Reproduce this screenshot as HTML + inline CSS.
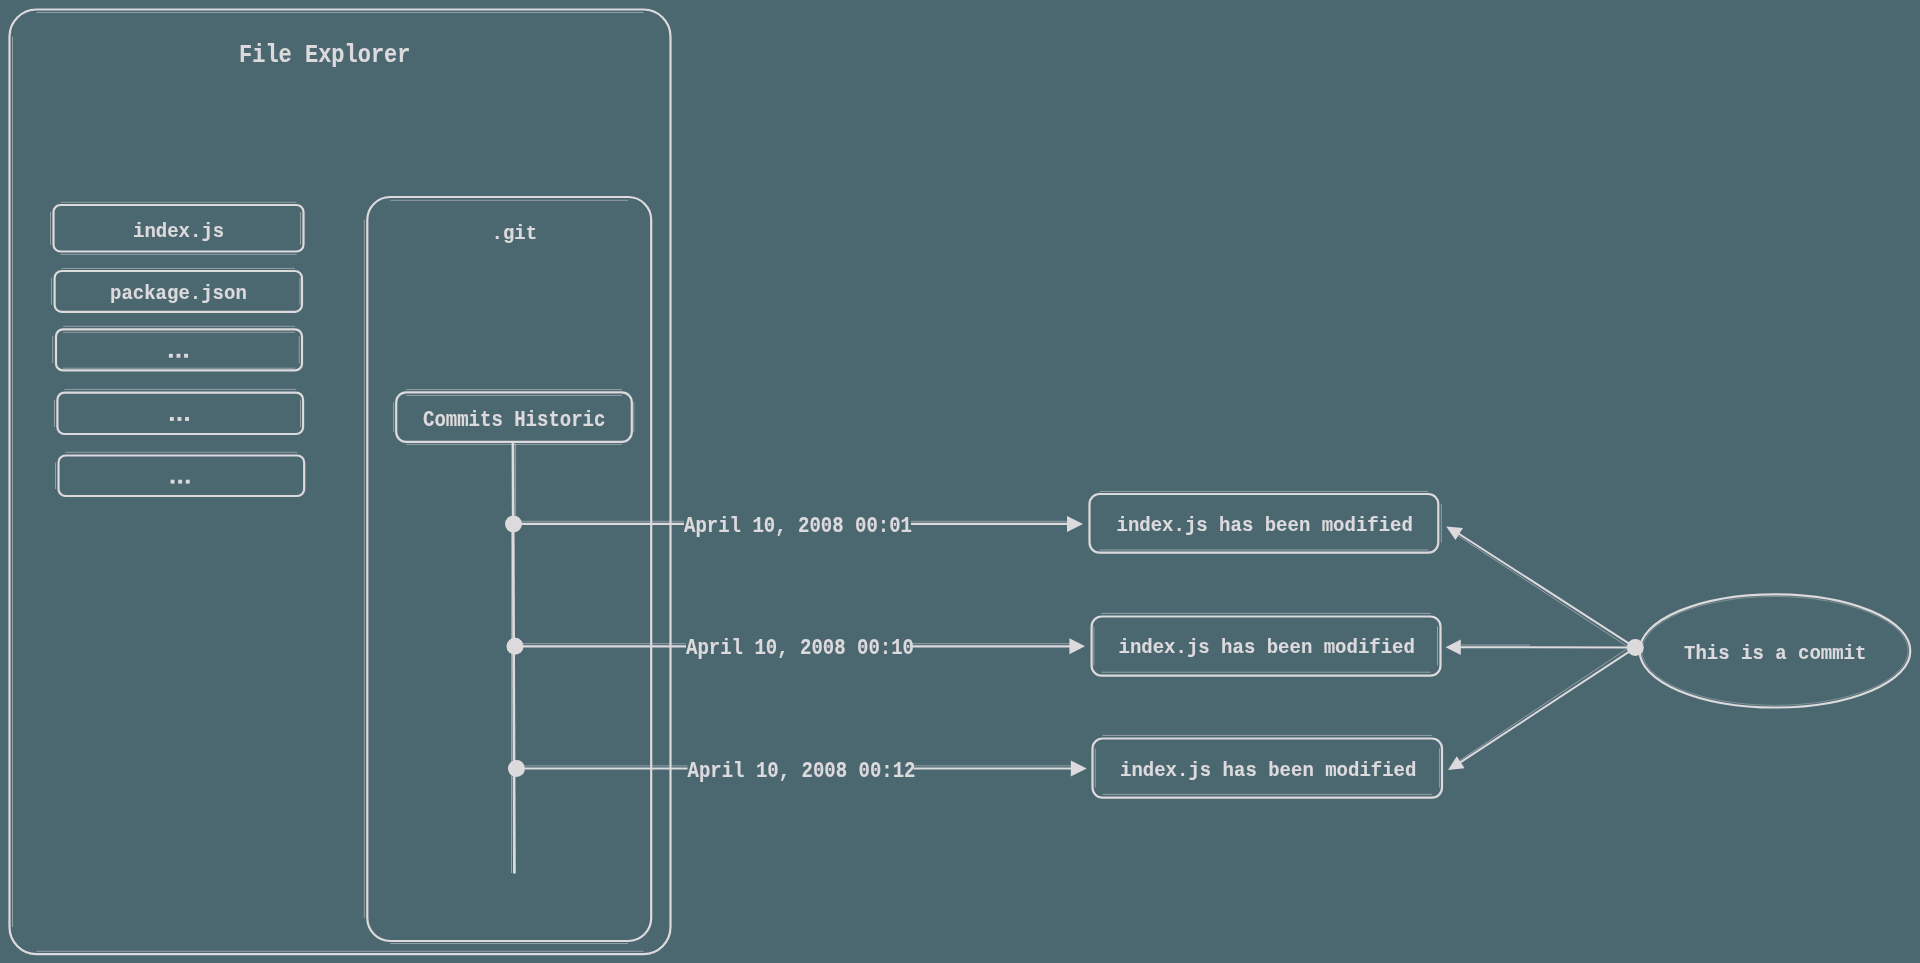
<!DOCTYPE html>
<html><head><meta charset="utf-8"><style>
html,body{margin:0;padding:0;background:#4b6770;width:1920px;height:963px;overflow:hidden}
svg{display:block;will-change:transform}
.m{fill:none;stroke:#dddadd;stroke-width:2.2;stroke-linecap:round}
.s{fill:none;stroke:#dddadd;stroke-width:1;opacity:.5}
.t{font-family:"Liberation Mono",monospace;font-weight:bold;fill:#dddadd;stroke:#dddadd;stroke-width:.12}
</style></head><body>
<svg width="1920" height="963" viewBox="0 0 1920 963">
<path d="M36.50 9.50H643.50A27 27 0 0 1 670.50 36.50V927.10A27 27 0 0 1 643.50 954.10H36.50A27 27 0 0 1 9.50 927.10V36.50A27 27 0 0 1 36.50 9.50Z" class="m"/>
<path d="M36.5 12.50H643.5" class="s"/>
<path d="M12.50 36.5V927.1" class="s"/>
<path d="M36.5 951.30H643.5" class="s"/>
<path d="M390.30 197.00H628.20A23 23 0 0 1 651.20 220.00V918.00A23 23 0 0 1 628.20 941.00H390.30A23 23 0 0 1 367.30 918.00V220.00A23 23 0 0 1 390.30 197.00Z" class="m"/>
<path d="M390.3 200.30H628.2" class="s"/>
<path d="M364.30 220.0V918.0" class="s"/>
<path d="M390.3 943.50H628.2" class="s"/>
<path d="M406.20 392.40H621.80A10 10 0 0 1 631.80 402.40V431.90A10 10 0 0 1 621.80 441.90H406.20A10 10 0 0 1 396.20 431.90V402.40A10 10 0 0 1 406.20 392.40Z" class="m"/>
<path d="M406.2 389.60H621.8" class="s"/>
<path d="M406.2 395.40H621.8" class="s"/>
<path d="M393.60 402.4V431.9" class="s"/>
<path d="M406.2 444.40H621.8" class="s"/>
<path d="M633.80 402.4V431.9" class="s"/>
<path d="M60.50 205.00H296.50A7 7 0 0 1 303.50 212.00V244.50A7 7 0 0 1 296.50 251.50H60.50A7 7 0 0 1 53.50 244.50V212.00A7 7 0 0 1 60.50 205.00Z" class="m"/>
<path d="M60.5 202.30H296.5" class="s"/>
<path d="M60.5 254.40H296.5" class="s"/>
<path d="M50.50 212.0V244.5" class="s"/>
<path d="M300.50 212.0V244.5" class="s"/>
<path d="M61.60 271.00H295.00A7 7 0 0 1 302.00 278.00V304.80A7 7 0 0 1 295.00 311.80H61.60A7 7 0 0 1 54.60 304.80V278.00A7 7 0 0 1 61.60 271.00Z" class="m"/>
<path d="M61.6 268.40H295.0" class="s"/>
<path d="M51.40 278.0V304.8" class="s"/>
<path d="M300.00 278.0V304.8" class="s"/>
<path d="M63.00 329.30H295.00A7 7 0 0 1 302.00 336.30V363.40A7 7 0 0 1 295.00 370.40H63.00A7 7 0 0 1 56.00 363.40V336.30A7 7 0 0 1 63.00 329.30Z" class="m"/>
<path d="M63.0 326.30H295.0" class="s"/>
<path d="M63.0 332.30H295.0" class="s"/>
<path d="M63.0 368.20H295.0" class="s"/>
<path d="M52.70 336.3V363.4" class="s"/>
<path d="M299.20 336.3V363.4" class="s"/>
<path d="M64.40 392.60H296.10A7 7 0 0 1 303.10 399.60V427.00A7 7 0 0 1 296.10 434.00H64.40A7 7 0 0 1 57.40 427.00V399.60A7 7 0 0 1 64.40 392.60Z" class="m"/>
<path d="M64.4 389.40H296.1" class="s"/>
<path d="M54.40 399.6V427.0" class="s"/>
<path d="M300.50 399.6V427.0" class="s"/>
<path d="M65.50 455.50H297.20A7 7 0 0 1 304.20 462.50V489.00A7 7 0 0 1 297.20 496.00H65.50A7 7 0 0 1 58.50 489.00V462.50A7 7 0 0 1 65.50 455.50Z" class="m"/>
<path d="M65.5 452.30H297.2" class="s"/>
<path d="M55.50 462.5V489.0" class="s"/>
<path d="M1099.50 494.00H1428.30A10 10 0 0 1 1438.30 504.00V542.60A10 10 0 0 1 1428.30 552.60H1099.50A10 10 0 0 1 1089.50 542.60V504.00A10 10 0 0 1 1099.50 494.00Z" class="m"/>
<path d="M1099.5 491.40H1428.3" class="s"/>
<path d="M1099.5 550.00H1428.3" class="s"/>
<path d="M1441.30 504.0V542.6" class="s"/>
<path d="M1101.60 616.50H1430.50A10 10 0 0 1 1440.50 626.50V665.60A10 10 0 0 1 1430.50 675.60H1101.60A10 10 0 0 1 1091.60 665.60V626.50A10 10 0 0 1 1101.60 616.50Z" class="m"/>
<path d="M1101.6 613.40H1430.5" class="s"/>
<path d="M1101.6 672.20H1430.5" class="s"/>
<path d="M1093.90 626.5V665.6" class="s"/>
<path d="M1437.50 626.5V665.6" class="s"/>
<path d="M1102.50 738.50H1432.00A10 10 0 0 1 1442.00 748.50V787.60A10 10 0 0 1 1432.00 797.60H1102.50A10 10 0 0 1 1092.50 787.60V748.50A10 10 0 0 1 1102.50 738.50Z" class="m"/>
<path d="M1102.5 735.40H1432.0" class="s"/>
<path d="M1102.5 794.40H1432.0" class="s"/>
<path d="M1095.30 748.5V787.6" class="s"/>
<path d="M1439.60 748.5V787.6" class="s"/>
<path d="M512.9 442L514.4 873.5" class="m" style="stroke-width:2.7;stroke-linecap:butt"/>
<path d="M515.6 444V515" class="s"/>
<path d="M511.5 532V873" class="s"/>
<circle cx="513.5" cy="523.9" r="8.5" fill="#dddadd"/>
<path d="M513.5 523.9H684M911 523.9H1069" class="m" style="stroke-width:2.2;stroke-linecap:butt"/>
<path d="M521.5 521.3H684M911 521.3H1067" class="s"/>
<path d="M1067 515.9L1083 523.9L1067 531.9Z" fill="#dddadd"/>
<circle cx="515" cy="646.3" r="8.5" fill="#dddadd"/>
<path d="M515 646.3H686M912 646.3H1071.4" class="m" style="stroke-width:2.2;stroke-linecap:butt"/>
<path d="M523 643.6999999999999H686M912 643.6999999999999H1069.4" class="s"/>
<path d="M1069.4 638.3L1085 646.3L1069.4 654.3Z" fill="#dddadd"/>
<circle cx="516.5" cy="768.5" r="8.5" fill="#dddadd"/>
<path d="M516.5 768.5H687.5M913.5 768.5H1072.8" class="m" style="stroke-width:2.2;stroke-linecap:butt"/>
<path d="M524.5 765.9H687.5M913.5 765.9H1070.8" class="s"/>
<path d="M1070.8 760.5L1086.7 768.5L1070.8 776.5Z" fill="#dddadd"/>
<ellipse cx="1775" cy="650.9" rx="135.3" ry="56.6" class="m" style="stroke-width:2.2"/>
<ellipse cx="1775" cy="650.9" rx="133" ry="54.4" class="s" style="opacity:.35"/>
<circle cx="1635.3" cy="647.6" r="8.5" fill="#dddadd"/>
<path d="M1635.3 647.6L1459.2 534.0" class="m" style="stroke-width:2"/>
<path d="M1632 649.5L1458.2 535.8" class="s"/>
<path d="M1446.2 526.5L1463 528L1455.5 540Z" fill="#dddadd"/>
<path d="M1635.3 647.6L1460.8 647.2" class="m" style="stroke-width:2"/>
<path d="M1530 645L1460.8 645" class="s"/>
<path d="M1445.6 647.3L1460.8 639.5L1460.8 655Z" fill="#dddadd"/>
<path d="M1635.3 647.6L1460.7 762.2" class="m" style="stroke-width:2"/>
<path d="M1632 645.5L1459.7 760.5" class="s"/>
<path d="M1448 770L1456.8 756.2L1464.6 768.3Z" fill="#dddadd"/>
<rect x="168.9" y="353.8" width="3.9" height="3.9" fill="#dddadd"/>
<rect x="176.5" y="353.8" width="3.9" height="3.9" fill="#dddadd"/>
<rect x="184.1" y="353.8" width="3.9" height="3.9" fill="#dddadd"/>
<rect x="169.9" y="417.0" width="3.9" height="3.9" fill="#dddadd"/>
<rect x="177.5" y="417.0" width="3.9" height="3.9" fill="#dddadd"/>
<rect x="185.1" y="417.0" width="3.9" height="3.9" fill="#dddadd"/>
<rect x="170.6" y="479.7" width="3.9" height="3.9" fill="#dddadd"/>
<rect x="178.2" y="479.7" width="3.9" height="3.9" fill="#dddadd"/>
<rect x="185.8" y="479.7" width="3.9" height="3.9" fill="#dddadd"/>
<text transform="translate(239,62.2) scale(1,1.2)" font-size="22" class="t">File Explorer</text>
<text transform="translate(491.5,239.2) scale(1,1.1)" font-size="19" class="t">.git</text>
<text transform="translate(423,425.7) scale(1,1.13)" font-size="19" class="t">Commits Historic</text>
<text transform="translate(133,236.7) scale(1,1.1)" font-size="19" class="t">index.js</text>
<text transform="translate(110,299.4) scale(1,1.1)" font-size="19" class="t">package.json</text>
<text transform="translate(684,531.8) scale(1,1.15)" font-size="19" class="t">April 10, 2008 00:01</text>
<text transform="translate(686,654.3) scale(1,1.15)" font-size="19" class="t">April 10, 2008 00:10</text>
<text transform="translate(687.5,776.5) scale(1,1.15)" font-size="19" class="t">April 10, 2008 00:12</text>
<text transform="translate(1116.5,531) scale(1,1.1)" font-size="19" class="t">index.js has been modified</text>
<text transform="translate(1118.5,653) scale(1,1.1)" font-size="19" class="t">index.js has been modified</text>
<text transform="translate(1120,775.7) scale(1,1.1)" font-size="19" class="t">index.js has been modified</text>
<text transform="translate(1684,659.1) scale(1,1.1)" font-size="19" class="t">This is a commit</text>
</svg>
</body></html>
